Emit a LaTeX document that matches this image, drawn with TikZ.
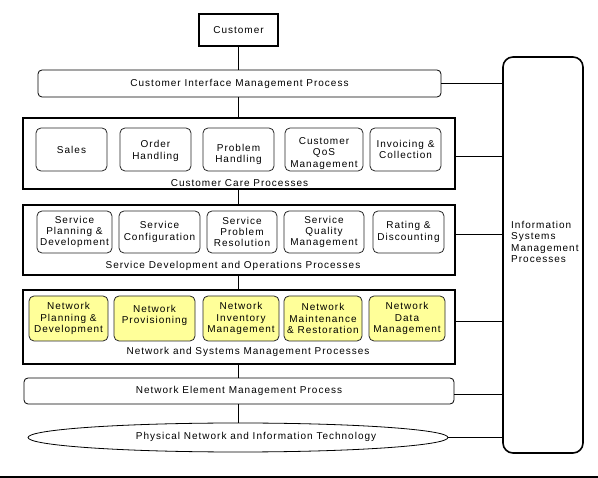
\documentclass[tikz,border=0pt]{standalone}
\usepackage{fontspec}
\setmainfont{Liberation Sans}[LetterSpace=10]
\usetikzlibrary{shapes.geometric}
\definecolor{pyellow}{RGB}{255,255,153}
\begin{document}
\begin{tikzpicture}[x=1pt,y=-1pt,
  every node/.style={font=\fontsize{10}{11.3}\selectfont, inner sep=0pt, align=center},
  sz/.style 2 args={minimum width=#1pt, minimum height=#2pt},
  thickbox/.style={draw, line width=1.6pt, rectangle},
  thinround/.style={draw, line width=0.8pt, rectangle, rounded corners=4pt},
  inbox/.style={draw=black!85, line width=0.8pt, rectangle, rounded corners=5pt, minimum height=43pt},
  netbox/.style={inbox, fill=pyellow},
  vline/.style={line width=1.6pt},
  hline/.style={line width=0.8pt}
]
\useasboundingbox (0,0) rectangle (598,478);

% top
\node[thickbox, sz={79}{32}] (cust) at (238.5,30) {Customer};
\node[thinround, sz={403}{27}] (cimp) at (239.5,83.5) {Customer Interface Management Process};

% Information systems
\node[draw, line width=1.6pt, rounded corners=10pt, sz={80}{396}] (ismp) at (543,255) {};
\node[anchor=west, align=left] (ismptxt) at (511,242) {Information\\Systems\\Management\\Processes};

% customer care
\node[thickbox, sz={432}{71}] (cc) at (239,153.5) {};
\node (cclab) at (239.5,183) {Customer Care Processes};
\node[inbox, minimum width=71pt] (sales) at (71.5,149.5) {Sales};
\node[inbox, minimum width=71pt] (order) at (155.5,149.5) {};
\node (ordert) at (155.5,151) {Order\\Handling};
\node[inbox, minimum width=71pt] (prob) at (238.5,149.5) {};
\node (probt) at (238.5,154.5) {Problem\\Handling};
\node[inbox, minimum width=78pt] (cqos) at (324,149.5) {};
\node (cqost) at (324,153.5) {Customer\\QoS\\Management};
\node[inbox, minimum width=71pt] (inv) at (405.5,149.5) {Invoicing \&\\Collection};

% service development
\node[thickbox, sz={432}{70}] (sd) at (239,240) {};
\node (sdlab) at (233,266) {Service Development and Operations Processes};
\node[inbox, minimum height=42pt, minimum width=75pt] (spd) at (74.5,232) {Service\\Planning \&\\Development};
\node[inbox, minimum height=42pt, minimum width=81pt] (scfg) at (159.5,232) {Service\\Configuration};
\node[inbox, minimum height=42pt, minimum width=70pt] (spr) at (242,232) {Service\\Problem\\Resolution};
\node[inbox, minimum height=42pt, minimum width=80pt] (sqm) at (324,232) {Service\\Quality\\Management};
\node[inbox, minimum height=42pt, minimum width=71pt] (rd) at (408.5,232) {Rating \&\\Discounting};

% network
\node[thickbox, sz={432}{74}] (nsm) at (239,327) {};
\node (nsmlab) at (248,352) {Network and Systems Management Processes};
\node[netbox, minimum height=45pt, minimum width=79pt] (npd) at (68.5,318.5) {Network\\Planning \&\\Development};
\node[netbox, minimum height=45pt, minimum width=81pt] (nprov) at (154.5,318.5) {};
\node (nprovt) at (154.5,315.5) {Network\\Provisioning};
\node[netbox, minimum height=45pt, minimum width=76pt] (nim) at (241,318.5) {Network\\Inventory\\Management};
\node[netbox, minimum height=45pt, minimum width=78pt] (nmr) at (323,318.5) {Network\\Maintenance\\\& Restoration};
\node[netbox, minimum height=45pt, minimum width=76pt] (ndm) at (407,318.5) {Network\\Data\\Management};

% bottom
\node[thinround, sz={430}{26}] (nemp) at (239,391) {Network Element Management Process};
\node[draw, line width=0.8pt, ellipse, sz={420}{29}] (phys) at (238,437.5) {};
\node (physt) at (256,437) {Physical Network and Information Technology};

% vertical spine
\draw[vline] (cust.south) -- (cust.south |- cimp.north);
\draw[vline] (cust.south |- cimp.south) -- (cust.south |- cc.north);
\draw[vline] (cust.south |- cc.south) -- (cust.south |- sd.north);
\draw[vline] (cust.south |- sd.south) -- (cust.south |- nsm.north);
\draw[vline] (cust.south |- nsm.south) -- (cust.south |- nemp.north);
\draw[vline] (cust.south |- nemp.south) -- (cust.south |- phys.north);

% connectors to ISMP
\draw[hline] (cimp.east) -- (cimp.east -| ismp.west);
\draw[hline] ([yshift=-2.5pt]cc.east) -- ([yshift=-2.5pt]cc.east -| ismp.west);
\draw[hline] ([yshift=6pt]sd.east) -- ([yshift=6pt]sd.east -| ismp.west);
\draw[hline] ([yshift=6pt]nsm.east) -- ([yshift=6pt]nsm.east -| ismp.west);
\draw[hline] ([yshift=-3pt]nemp.east) -- ([yshift=-3pt]nemp.east -| ismp.west);
\draw[hline] (phys.east) -- (phys.east -| ismp.west);

% bottom rule
\coordinate (rl) at (0,477);
\coordinate (rr) at (598,477);
\draw[line width=1.6pt] (rl) -- (rr);
\end{tikzpicture}
\end{document}
